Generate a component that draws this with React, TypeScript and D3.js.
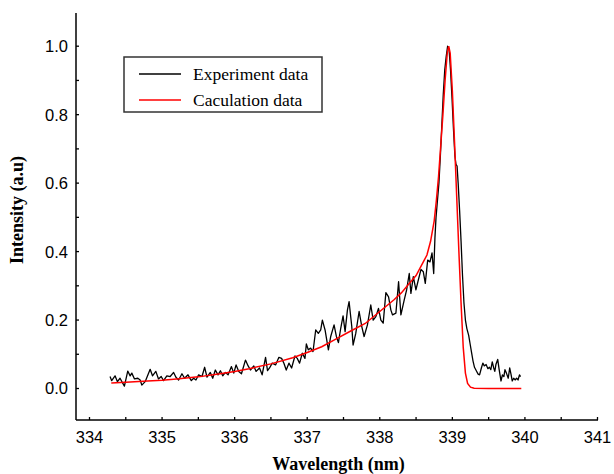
import React from "react";
import * as d3 from "d3";

const W = 614;
const H = 474;

const xTicks = [334, 335, 336, 337, 338, 339, 340, 341];
const xMinorTicks = [334.5, 335.5, 336.5, 337.5, 338.5, 339.5, 340.5];
const yTicks = [0.0, 0.2, 0.4, 0.6, 0.8, 1.0];
const yMinorTicks = [0.1, 0.3, 0.5, 0.7, 0.9];

const seriesNames = ["Experiment data", "Caculation data"];
const seriesColors = ["#000000", "#ff0000"];

const expWavelength = [
  334.283, 334.306, 334.352, 334.385, 334.421, 334.454, 334.481, 334.527, 334.56, 334.583,
  334.62, 334.666, 334.698, 334.721, 334.767, 334.836, 334.868, 334.914, 334.951, 334.988,
  335.02, 335.066, 335.112, 335.159, 335.191, 335.228, 335.274, 335.311, 335.357, 335.403,
  335.435, 335.467, 335.504, 335.55, 335.587, 335.619, 335.665, 335.698, 335.734, 335.771,
  335.804, 335.836, 335.873, 335.91, 335.956, 335.988, 336.02, 336.057, 336.094, 336.149,
  336.186, 336.218, 336.264, 336.296, 336.343, 336.379, 336.426, 336.453, 336.481, 336.518,
  336.564, 336.61, 336.647, 336.679, 336.711, 336.748, 336.785, 336.831, 336.863, 336.895,
  336.932, 336.969, 336.988, 337.015, 337.047, 337.08, 337.117, 337.153, 337.186, 337.209,
  337.246, 337.292, 337.324, 337.37, 337.402, 337.43, 337.462, 337.494, 337.522, 337.554,
  337.577, 337.614, 337.632, 337.669, 337.715, 337.752, 337.784, 337.83, 337.876, 337.909,
  337.946, 337.982, 338.015, 338.047, 338.084, 338.121, 338.153, 338.176, 338.222, 338.259,
  338.291, 338.337, 338.37, 338.406, 338.429, 338.462, 338.498, 338.531, 338.568, 338.6,
  338.627, 338.66, 338.692, 338.72, 338.743, 338.76, 338.775, 338.795, 338.815, 338.835,
  338.855, 338.875, 338.895, 338.915, 338.935, 338.955, 338.975, 338.995, 339.015, 339.035,
  339.05, 339.065, 339.08, 339.1, 339.12, 339.14, 339.16, 339.18, 339.2, 339.225,
  339.245, 339.265, 339.285, 339.305, 339.33, 339.355, 339.375, 339.4, 339.42, 339.44,
  339.465, 339.49, 339.51, 339.53, 339.55, 339.57, 339.585, 339.6, 339.625, 339.645,
  339.67, 339.69, 339.71, 339.725, 339.745, 339.77, 339.79, 339.81, 339.825, 339.845,
  339.865, 339.885, 339.905, 339.925, 339.94,
];

const expIntensity = [
  0.035, 0.023, 0.037, 0.02, 0.03, 0.017, 0.007, 0.051, 0.037, 0.045,
  0.028, 0.03, 0.025, 0.01, 0.02, 0.056, 0.037, 0.05, 0.028, 0.035,
  0.023, 0.037, 0.035, 0.047, 0.033, 0.025, 0.043, 0.03, 0.04, 0.023,
  0.03, 0.025, 0.04, 0.035, 0.062, 0.033, 0.047, 0.03, 0.054, 0.04,
  0.052, 0.037, 0.047, 0.04, 0.064, 0.045, 0.069, 0.05, 0.043, 0.083,
  0.066, 0.054, 0.066, 0.05, 0.06, 0.04, 0.091, 0.052, 0.06, 0.074,
  0.069, 0.091, 0.088, 0.074, 0.054, 0.074, 0.06, 0.095, 0.088, 0.074,
  0.103, 0.088, 0.13, 0.113, 0.118, 0.108, 0.171, 0.161, 0.171, 0.2,
  0.171, 0.113, 0.152, 0.186, 0.152, 0.134, 0.176, 0.212, 0.166, 0.229,
  0.254, 0.181, 0.127, 0.161, 0.225, 0.181, 0.152, 0.186, 0.244, 0.2,
  0.21, 0.234, 0.2, 0.191, 0.28, 0.268, 0.229, 0.215, 0.22, 0.312,
  0.215, 0.259, 0.288, 0.336, 0.278, 0.327, 0.288, 0.317, 0.348, 0.341,
  0.307, 0.375, 0.37, 0.396, 0.336, 0.44, 0.5, 0.55, 0.6, 0.68,
  0.77, 0.86, 0.93, 0.97, 1.0, 0.99, 0.93, 0.85, 0.76, 0.68,
  0.655, 0.65, 0.6, 0.52, 0.43, 0.33, 0.25, 0.2, 0.175, 0.155,
  0.13, 0.105, 0.08, 0.062, 0.052, 0.042, 0.04, 0.06, 0.074, 0.066,
  0.07, 0.058, 0.062, 0.055, 0.078, 0.06, 0.05, 0.07, 0.085, 0.055,
  0.022, 0.04, 0.035, 0.055, 0.045, 0.03, 0.06, 0.04, 0.022, 0.03,
  0.025, 0.03, 0.025, 0.04, 0.035,
];

const calcWavelength = [
  334.3, 334.5, 334.8, 335.0, 335.2, 335.5, 335.8, 336.0, 336.2, 336.5,
  336.8, 337.0, 337.2, 337.4, 337.6, 337.8, 338.0, 338.2, 338.3, 338.4,
  338.5, 338.6, 338.65, 338.7, 338.75, 338.78, 338.81, 338.84, 338.87, 338.9,
  338.93, 338.95, 338.97, 339.0, 339.03, 339.06, 339.09, 339.12, 339.15, 339.18,
  339.21, 339.25, 339.3, 339.5, 339.95,
];

const calcIntensity = [
  0.016, 0.018, 0.022, 0.024, 0.028, 0.034, 0.043, 0.05, 0.058, 0.072,
  0.09, 0.105, 0.122, 0.145, 0.168, 0.19, 0.225, 0.26, 0.28, 0.305,
  0.33, 0.37, 0.39, 0.43, 0.49, 0.55, 0.62, 0.71, 0.8, 0.9,
  0.98, 1.0, 0.98, 0.87, 0.72, 0.56, 0.4, 0.25, 0.12, 0.045,
  0.015, 0.004, 0.001, 0.0, 0.0,
];

const margin = { left: 76, right: 16, top: 13, bottom: 54 };

export default function App() {
  const x = d3
    .scaleLinear()
    .domain([333.814, 341.007])
    .range([margin.left, W - margin.right]);
  const y = d3
    .scaleLinear()
    .domain([-0.092, 1.097])
    .range([H - margin.bottom, margin.top]);

  const line = d3
    .line<[number, number]>()
    .x((d) => x(d[0]))
    .y((d) => y(d[1]));

  const expData: [number, number][] = expWavelength.map((w, i) => [w, expIntensity[i]]);
  const calcData: [number, number][] = calcWavelength.map((w, i) => [w, calcIntensity[i]]);

  const x0 = x.range()[0];
  const x1 = x.range()[1];
  const y0 = y.range()[0];
  const y1 = y.range()[1];
  const tickLen = 3;

  const sans = "'Liberation Sans', Arial, sans-serif";
  const serif = "'Liberation Serif', 'Times New Roman', serif";

  const legendX = 124;
  const legendY = 57;

  return (
    <svg
      width={W}
      height={H}
      style={{ position: "absolute", left: 0, top: 0, background: "#fff" }}
    >
      <rect x={0} y={0} width={W} height={H} fill="#fff" />
      {/* data */}
      <path d={line(expData) || ""} fill="none" stroke={seriesColors[0]} strokeWidth={1.3} strokeLinejoin="round" />
      <path d={line(calcData) || ""} fill="none" stroke={seriesColors[1]} strokeWidth={1.5} />

      {/* axes */}
      <line x1={x0} x2={x0} y1={y1} y2={y0} stroke="#000" strokeWidth={1.5} />
      <line x1={x0} x2={x1} y1={y0} y2={y0} stroke="#000" strokeWidth={1.5} />

      {xTicks.map((t) => (
        <g key={"xt" + t}>
          <line x1={x(t)} x2={x(t)} y1={y0} y2={y0 - tickLen} stroke="#000" strokeWidth={1.3} />
          <text x={x(t)} y={443} textAnchor="middle" fontFamily={sans} fontSize={16.5} fill="#000">
            {t}
          </text>
        </g>
      ))}
      {xMinorTicks.map((t) => (
        <line key={"xm" + t} x1={x(t)} x2={x(t)} y1={y0} y2={y0 - tickLen} stroke="#000" strokeWidth={1.3} />
      ))}
      {yTicks.map((t) => (
        <g key={"yt" + t}>
          <line x1={x0} x2={x0 + tickLen} y1={y(t)} y2={y(t)} stroke="#000" strokeWidth={1.3} />
          <text x={68} y={y(t)} dy="0.36em" textAnchor="end" fontFamily={sans} fontSize={16.5} fill="#000">
            {d3.format(".1f")(t)}
          </text>
        </g>
      ))}
      {yMinorTicks.map((t) => (
        <line key={"ym" + t} x1={x0} x2={x0 + tickLen} y1={y(t)} y2={y(t)} stroke="#000" strokeWidth={1.3} />
      ))}

      {/* axis titles */}
      <text
        x={338.5}
        y={470}
        textAnchor="middle"
        fontFamily={serif}
        fontWeight="bold"
        fontSize={18}
        fill="#000"
      >
        Wavelength (nm)
      </text>
      <text
        transform={`translate(23, ${210}) rotate(-90)`}
        textAnchor="middle"
        fontFamily={serif}
        fontWeight="bold"
        fontSize={18}
        fill="#000"
      >
        Intensity (a.u)
      </text>

      {/* legend */}
      <rect x={legendX} y={legendY} width={198} height={55} fill="#fff" stroke="#333" strokeWidth={1.5} />
      {seriesNames.map((name, i) => (
        <g key={name}>
          <line
            x1={139}
            x2={181}
            y1={74 + i * 26}
            y2={74 + i * 26}
            stroke={seriesColors[i]}
            strokeWidth={1.5}
          />
          <text x={193} y={80 + i * 26} fontFamily={serif} fontSize={17.5} fill="#000">
            {name}
          </text>
        </g>
      ))}
    </svg>
  );
}
